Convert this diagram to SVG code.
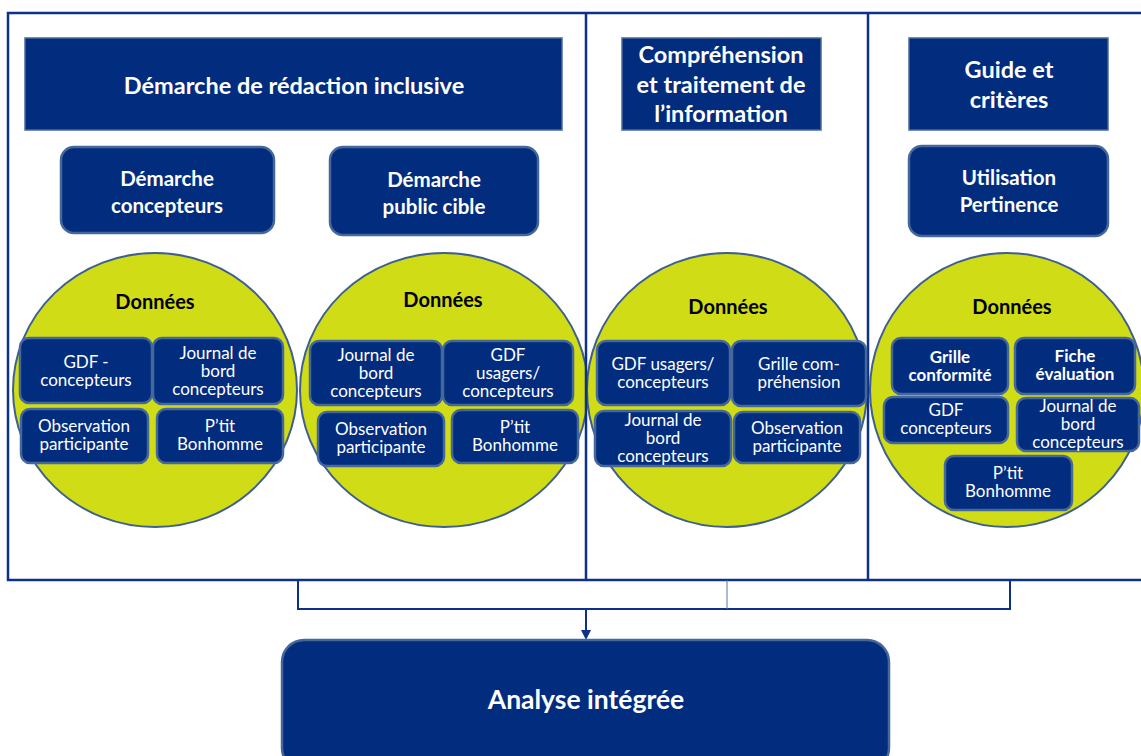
<svg xmlns="http://www.w3.org/2000/svg" width="1141" height="756" viewBox="0 0 1141 756">
<defs>
<style>
.hdr{fill:#022c7e;stroke:#4a6b98;stroke-width:1.5}
.rbox{fill:#022c7e;stroke:#46679a;stroke-width:2.5}
.ibox{fill:#022c7e;stroke:#46679a;stroke-width:2.5}
.circ{fill:#cfdc16;stroke:#3f5f8f;stroke-width:2}
.frame{fill:none;stroke:#0d3189;stroke-width:2.5}
.ht{font-family:Lato,"Liberation Sans",sans-serif;font-weight:bold;fill:#fff;text-anchor:middle;font-size:23.5px}
.st{font-family:Lato,"Liberation Sans",sans-serif;font-weight:bold;fill:#fff;text-anchor:middle;font-size:20.5px}
.it{font-family:Lato,"Liberation Sans",sans-serif;fill:#fff;text-anchor:middle;font-size:17px}
.ib{font-family:Lato,"Liberation Sans",sans-serif;font-weight:bold;fill:#fff;text-anchor:middle;font-size:17px}
.dt{font-family:Lato,"Liberation Sans",sans-serif;font-weight:bold;fill:#000;text-anchor:middle;font-size:20px}
.con{fill:none;stroke:#0d3189;stroke-width:2}
</style>
</defs>
<rect width="1141" height="756" fill="#fff"/>

<g id="circle-1">
<ellipse class="circ" cx="155" cy="390" rx="142" ry="137"/>
<text class="dt" x="155" y="309">Données</text>
</g>
<g id="circle-2">
<ellipse class="circ" cx="444" cy="390" rx="144" ry="137"/>
<text class="dt" x="443" y="307">Données</text>
</g>
<g id="circle-3">
<ellipse class="circ" cx="727" cy="390" rx="140" ry="137"/>
<text class="dt" x="728" y="314">Données</text>
</g>
<g id="circle-4">
<ellipse class="circ" cx="1007" cy="390" rx="137" ry="137"/>
<text class="dt" x="1012" y="314">Données</text>
</g>

<g id="panels">
<rect class="frame" x="8" y="13" width="1140" height="567"/>
<line class="frame" x1="586" y1="13" x2="586" y2="580"/>
<line class="frame" x1="868" y1="13" x2="868" y2="580"/>
</g>

<g id="h-redaction">
<rect class="hdr" x="25" y="38" width="537" height="92"/>
<text class="ht" x="294" y="94">Démarche de rédaction inclusive</text>
</g>
<g id="h-comprehension">
<rect class="hdr" x="622" y="38" width="199" height="92"/>
<text class="ht" x="721" y="63">Compréhension</text>
<text class="ht" x="721" y="93">et traitement de</text>
<text class="ht" x="721" y="122">l’information</text>
</g>
<g id="h-guide">
<rect class="hdr" x="909" y="38" width="199" height="92"/>
<text class="ht" x="1009" y="78">Guide et</text>
<text class="ht" x="1009" y="108">critères</text>
</g>

<g id="d-concepteurs">
<rect class="rbox" x="61" y="147" width="213" height="86" rx="13"/>
<text class="st" x="167" y="186">Démarche</text>
<text class="st" x="167" y="213">concepteurs</text>
</g>
<g id="d-public">
<rect class="rbox" x="330" y="147" width="208" height="88" rx="13"/>
<text class="st" x="434" y="187">Démarche</text>
<text class="st" x="434" y="214">public cible</text>
</g>
<g id="d-utilisation">
<rect class="rbox" x="909" y="146" width="199" height="90" rx="13"/>
<text class="st" x="1009" y="185">Utilisation</text>
<text class="st" x="1009" y="212">Pertinence</text>
</g>

<g id="c1-gdf">
<rect class="ibox" x="20" y="338" width="132" height="65" rx="9"/>
<text class="it" x="86" y="368">GDF -</text>
<text class="it" x="86" y="386">concepteurs</text>
</g>
<g id="c1-journal">
<rect class="ibox" x="153" y="338" width="130" height="66" rx="9"/>
<text class="it" x="218" y="359">Journal de</text>
<text class="it" x="218" y="377">bord</text>
<text class="it" x="218" y="395">concepteurs</text>
</g>
<g id="c1-observation">
<rect class="ibox" x="21" y="409" width="127" height="54" rx="9"/>
<text class="it" x="84" y="432">Observation</text>
<text class="it" x="84" y="450">participante</text>
</g>
<g id="c1-ptit">
<rect class="ibox" x="157" y="409" width="126" height="54" rx="9"/>
<text class="it" x="220" y="432">P’tit</text>
<text class="it" x="220" y="450">Bonhomme</text>
</g>

<g id="c2-journal">
<rect class="ibox" x="310" y="341" width="132" height="64" rx="9"/>
<text class="it" x="376" y="361">Journal de</text>
<text class="it" x="376" y="379">bord</text>
<text class="it" x="376" y="397">concepteurs</text>
</g>
<g id="c2-gdf">
<rect class="ibox" x="443" y="341" width="130" height="64" rx="9"/>
<text class="it" x="508" y="361">GDF</text>
<text class="it" x="508" y="379">usagers/</text>
<text class="it" x="508" y="397">concepteurs</text>
</g>
<g id="c2-observation">
<rect class="ibox" x="318" y="412" width="126" height="54" rx="9"/>
<text class="it" x="381" y="435">Observation</text>
<text class="it" x="381" y="453">participante</text>
</g>
<g id="c2-ptit">
<rect class="ibox" x="452" y="410" width="126" height="53" rx="9"/>
<text class="it" x="515" y="433">P’tit</text>
<text class="it" x="515" y="451">Bonhomme</text>
</g>

<g id="c3-gdf">
<rect class="ibox" x="597" y="341" width="133" height="64" rx="9"/>
<text class="it" x="663" y="370">GDF usagers/</text>
<text class="it" x="663" y="388">concepteurs</text>
</g>
<g id="c3-grille">
<rect class="ibox" x="732" y="341" width="134" height="65" rx="9"/>
<text class="it" x="799" y="370">Grille com-</text>
<text class="it" x="799" y="388">préhension</text>
</g>
<g id="c3-journal">
<rect class="ibox" x="595" y="411" width="136" height="55" rx="9"/>
<text class="it" x="663" y="426">Journal de</text>
<text class="it" x="663" y="444">bord</text>
<text class="it" x="663" y="462">concepteurs</text>
</g>
<g id="c3-observation">
<rect class="ibox" x="734" y="412" width="126" height="51" rx="9"/>
<text class="it" x="797" y="434">Observation</text>
<text class="it" x="797" y="452">participante</text>
</g>

<g id="c4-grille">
<rect class="ibox" x="892" y="338" width="116" height="56" rx="9"/>
<text class="ib" x="950" y="363">Grille</text>
<text class="ib" x="950" y="381">conformité</text>
</g>
<g id="c4-fiche">
<rect class="ibox" x="1015" y="338" width="120" height="56" rx="9"/>
<text class="ib" x="1075" y="362">Fiche</text>
<text class="ib" x="1075" y="380">évaluation</text>
</g>
<g id="c4-gdf">
<rect class="ibox" x="884" y="397" width="124" height="46" rx="9"/>
<text class="it" x="946" y="416">GDF</text>
<text class="it" x="946" y="434">concepteurs</text>
</g>
<g id="c4-journal">
<rect class="ibox" x="1017" y="398" width="122" height="53" rx="9"/>
<text class="it" x="1078" y="412">Journal de</text>
<text class="it" x="1078" y="430">bord</text>
<text class="it" x="1078" y="448">concepteurs</text>
</g>
<g id="c4-ptit">
<rect class="ibox" x="945" y="456" width="127" height="54" rx="9"/>
<text class="it" x="1008" y="479">P’tit</text>
<text class="it" x="1008" y="497">Bonhomme</text>
</g>

<g id="connectors">
<polyline class="con" points="298,580 298,609 1010,609 1010,580"/>
<line x1="727" y1="580" x2="727" y2="609" stroke="#5a74aa" stroke-width="1"/>
<line class="con" x1="586" y1="609" x2="586" y2="632"/>
<polygon points="581,630 591,630 586,640" fill="#0d3189"/>
</g>

<g id="analyse">
<rect class="rbox" x="282" y="640" width="607" height="130" rx="22"/>
<text class="ht" x="586" y="709" style="font-size:26.5px">Analyse intégrée</text>
</g>
</svg>
